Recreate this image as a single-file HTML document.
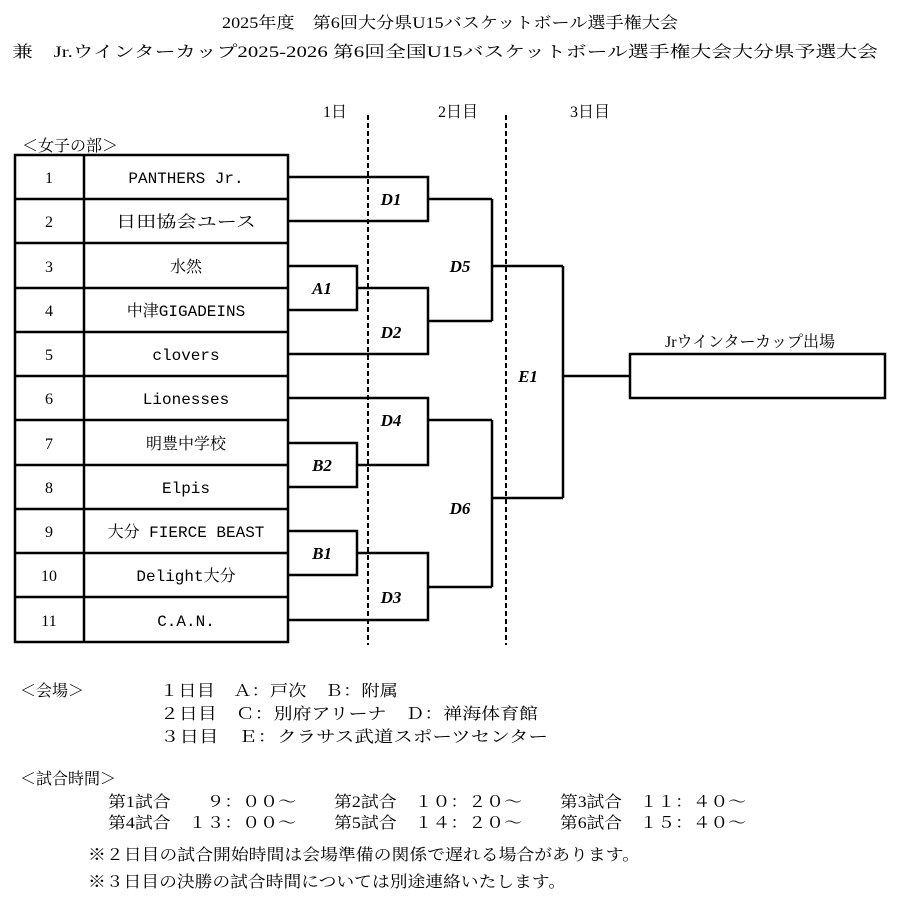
<!DOCTYPE html>
<html><head><meta charset="utf-8"><style>
html,body{margin:0;padding:0;background:#fff;}
svg{display:block}
text{font-family:"Liberation Serif","Noto Serif CJK SC",serif;font-size:16px;fill:#000}
.m{font-family:"Liberation Mono","Noto Serif CJK SC",monospace;font-size:16px}
.l{font-style:italic;font-weight:bold;font-size:17px}
</style></head><body>
<svg width="900" height="903" viewBox="0 0 900 903">
<text x="222" y="28" textLength="456" lengthAdjust="spacingAndGlyphs">2025年度　第6回大分県U15バスケットボール選手権大会</text>
<text x="12" y="57" textLength="866" lengthAdjust="spacingAndGlyphs">兼　Jr.ウインターカップ2025-2026 第6回全国U15バスケットボール選手権大会大分県予選大会</text>
<text x="335" y="117" text-anchor="middle">1日</text>
<text x="458" y="117" text-anchor="middle">2日目</text>
<text x="590" y="117" text-anchor="middle">3日目</text>
<text x="22" y="151">＜女子の部＞</text>
<g stroke="#000" stroke-width="2.5" fill="none">
<rect x="15" y="155" width="273" height="487"/>
<line x1="84" y1="155" x2="84" y2="642"/>
<line x1="15" y1="199" x2="288" y2="199"/>
<line x1="15" y1="243" x2="288" y2="243"/>
<line x1="15" y1="288" x2="288" y2="288"/>
<line x1="15" y1="332" x2="288" y2="332"/>
<line x1="15" y1="376" x2="288" y2="376"/>
<line x1="15" y1="420" x2="288" y2="420"/>
<line x1="15" y1="465" x2="288" y2="465"/>
<line x1="15" y1="509" x2="288" y2="509"/>
<line x1="15" y1="553" x2="288" y2="553"/>
<line x1="15" y1="597" x2="288" y2="597"/>
</g>
<g stroke="#000" stroke-width="2.5" fill="none">
<polyline points="288,177 428,177 428,221 288,221"/>
<line x1="428" y1="199" x2="492" y2="199"/>
<polyline points="288,266 357,266 357,310 288,310"/>
<polyline points="357,288 428,288 428,354 288,354"/>
<line x1="428" y1="321" x2="492" y2="321"/>
<polyline points="492,199 492,321"/>
<line x1="492" y1="266" x2="563" y2="266"/>
<polyline points="288,398 428,398 428,465 357,465"/>
<polyline points="288,443 357,443 357,487 288,487"/>
<line x1="428" y1="420" x2="492" y2="420"/>
<polyline points="288,531 357,531 357,575 288,575"/>
<polyline points="357,553 428,553 428,620 288,620"/>
<line x1="428" y1="587" x2="492" y2="587"/>
<polyline points="492,420 492,587"/>
<line x1="492" y1="498" x2="563" y2="498"/>
<polyline points="563,266 563,498"/>
<line x1="563" y1="376" x2="630" y2="376"/>
<rect x="630" y="354" width="255" height="44"/>
</g>
<g stroke="#000" stroke-width="2" stroke-dasharray="5,3">
<line x1="368" y1="115" x2="368" y2="645"/>
<line x1="506" y1="115" x2="506" y2="645"/>
</g>
<g text-anchor="middle">
<text x="49" y="183">1</text><text class="m" x="186" y="183">PANTHERS Jr.</text>
<text x="49" y="227">2</text><text x="186" y="227" textLength="140" lengthAdjust="spacingAndGlyphs">日田協会ユース</text>
<text x="49" y="272">3</text><text x="186" y="272">水然</text>
<text x="49" y="316">4</text><text class="m" x="186" y="316">中津GIGADEINS</text>
<text x="49" y="360">5</text><text class="m" x="186" y="360">clovers</text>
<text x="49" y="404">6</text><text class="m" x="186" y="404">Lionesses</text>
<text x="49" y="449">7</text><text x="186" y="449">明豊中学校</text>
<text x="49" y="493">8</text><text class="m" x="186" y="493">Elpis</text>
<text x="49" y="537">9</text><text class="m" x="186" y="537">大分 FIERCE BEAST</text>
<text x="49" y="581">10</text><text class="m" x="186" y="581">Delight大分</text>
<text x="49" y="626">11</text><text class="m" x="186" y="626">C.A.N.</text>
<text class="l" x="391" y="205">D1</text>
<text class="l" x="322" y="294">A1</text>
<text class="l" x="391" y="338">D2</text>
<text class="l" x="460" y="272">D5</text>
<text class="l" x="528" y="382">E1</text>
<text class="l" x="391" y="426">D4</text>
<text class="l" x="322" y="471">B2</text>
<text class="l" x="460" y="514">D6</text>
<text class="l" x="322" y="559">B1</text>
<text class="l" x="391" y="603">D3</text>
<text x="750" y="347">Jrウインターカップ出場</text>
</g>
<text x="20" y="696">＜会場＞</text>
<text x="160" y="696" textLength="238" lengthAdjust="spacingAndGlyphs">１日目　Ａ：戸次　Ｂ：附属</text>
<text x="160" y="719" textLength="378" lengthAdjust="spacingAndGlyphs">２日目　Ｃ：別府アリーナ　Ｄ：禅海体育館</text>
<text x="160" y="742" textLength="388" lengthAdjust="spacingAndGlyphs">３日目　Ｅ：クラサス武道スポーツセンター</text>
<text x="20" y="784">＜試合時間＞</text>
<text x="108" y="807" textLength="188" lengthAdjust="spacingAndGlyphs">第1試合　　９：００～</text>
<text x="334" y="807" textLength="188" lengthAdjust="spacingAndGlyphs">第2試合　１０：２０～</text>
<text x="560" y="807" textLength="186" lengthAdjust="spacingAndGlyphs">第3試合　１１：４０～</text>
<text x="108" y="828" textLength="188" lengthAdjust="spacingAndGlyphs">第4試合　１３：００～</text>
<text x="334" y="828" textLength="188" lengthAdjust="spacingAndGlyphs">第5試合　１４：２０～</text>
<text x="560" y="828" textLength="186" lengthAdjust="spacingAndGlyphs">第6試合　１５：４０～</text>
<text x="88" y="860" textLength="552" lengthAdjust="spacingAndGlyphs">※２日目の試合開始時間は会場準備の関係で遅れる場合があります。</text>
<text x="88" y="887" textLength="478" lengthAdjust="spacingAndGlyphs">※３日目の決勝の試合時間については別途連絡いたします。</text>
</svg>
</body></html>
